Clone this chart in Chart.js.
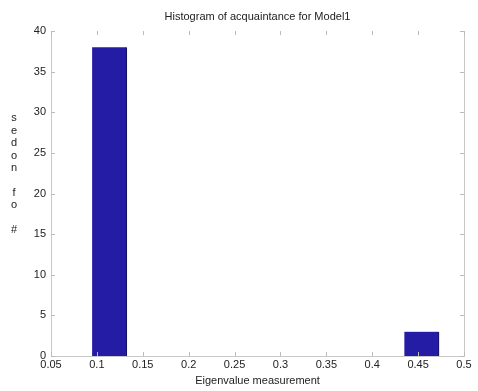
<!DOCTYPE html>
<html>
<head>
<meta charset="utf-8">
<script src="https://cdn.jsdelivr.net/npm/chart.js@4"></script>
<style>
  html, body { margin: 0; padding: 0; background: #fff; }
  #wrap { width: 478px; height: 391px; position: relative; }
</style>
</head>
<body>
<div id="wrap"><canvas id="histChart"></canvas></div>
<script>
// histogram bins (centres) and counts
const binCenters = [0.1137, 0.1515, 0.1893, 0.2271, 0.2649, 0.3027, 0.3405, 0.3783, 0.4161, 0.4539];
const counts = [38, 0, 0, 0, 0, 0, 0, 0, 0, 3];
const xTicks = [0.05, 0.1, 0.15, 0.2, 0.25, 0.3, 0.35, 0.4, 0.45, 0.5];
const yTicks = [0, 5, 10, 15, 20, 25, 30, 35, 40];

const titleText = 'Histogram of acquaintance for Model1';
const xLabel = 'Eigenvalue measurement';
const yLabel = '# of nodes';

const FONT = '"Liberation Sans", Arial, sans-serif';

// title, axis labels, frame and inward ticks in the matlab look
const decor = {
    id: 'decor',
    afterDraw(chart) {
        const { ctx, chartArea: a, scales } = chart;
        ctx.save();
        ctx.fillStyle = '#222';
        ctx.font = '11px ' + FONT;
        ctx.textAlign = 'center';
        ctx.textBaseline = 'middle';
        ctx.fillText(titleText, (a.left + a.right) / 2, 17);
        ctx.fillText(xLabel, (a.left + a.right) / 2, 381);

        // y label: letters stacked, reading bottom to top
        const letters = yLabel.split('').reverse();
        let y = 118;
        letters.forEach(ch => {
            if (ch !== ' ') ctx.fillText(ch, 14, y);
            y += ch === ' ' ? 12 : 12.5;
        });

        // frame
        ctx.strokeStyle = '#c8c8c8';
        ctx.lineWidth = 1;
        ctx.beginPath();
        ctx.moveTo(a.right + 0.5, a.top);
        ctx.lineTo(a.right + 0.5, a.bottom);
        ctx.stroke();

        // inward ticks
        ctx.strokeStyle = '#bbb';
        ctx.beginPath();
        xTicks.forEach(v => {
            const px = Math.round(scales.x.getPixelForValue(v)) + 0.5;
            ctx.moveTo(px, a.bottom); ctx.lineTo(px, a.bottom - 4);
            ctx.moveTo(px, a.top); ctx.lineTo(px, a.top + 4);
        });
        yTicks.forEach(v => {
            const py = Math.round(scales.y.getPixelForValue(v)) + 0.5;
            ctx.moveTo(a.left, py); ctx.lineTo(a.left + 4, py);
            ctx.moveTo(a.right, py); ctx.lineTo(a.right - 4, py);
        });
        ctx.stroke();
        ctx.restore();
    }
};

new Chart(document.getElementById('histChart'), {
    type: 'bar',
    data: {
        datasets: [{
            data: binCenters.map((x, i) => ({ x, y: counts[i] })),
            backgroundColor: '#241ca4',
            borderColor: '#14105a',
            borderWidth: { right: 1 },
            barPercentage: 1,
            categoryPercentage: 1
        }]
    },
    options: {
        responsive: true,
        maintainAspectRatio: false,
        animation: false,
        layout: { padding: { top: 31, right: 14, left: 0, bottom: 0 } },
        plugins: {
            legend: { display: false },
            tooltip: { enabled: false }
        },
        scales: {
            x: {
                type: 'linear',
                min: 0.05,
                max: 0.5,
                offset: false,
                afterFit: s => { s.height = 35; },
                afterBuildTicks: s => { s.ticks = xTicks.map(v => ({ value: v })); },
                ticks: {
                    color: '#222',
                    font: { family: FONT, size: 11 },
                    padding: 2,
                    maxRotation: 0,
                    autoSkip: false,
                    callback: v => String(v)
                },
                grid: { display: false, drawTicks: false },
                border: { color: '#c8c8c8' }
            },
            y: {
                min: 0,
                max: 40,
                afterFit: s => { s.width = 51; },
                afterBuildTicks: s => { s.ticks = yTicks.map(v => ({ value: v })); },
                ticks: {
                    color: '#222',
                    font: { family: FONT, size: 11 },
                    padding: 5
                },
                grid: { display: false, drawTicks: false },
                border: { color: '#c8c8c8' }
            }
        }
    },
    plugins: [decor]
});
</script>
</body>
</html>
